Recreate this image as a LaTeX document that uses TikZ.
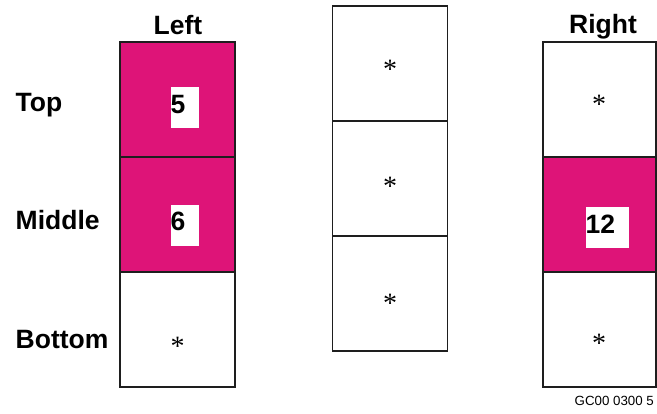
\documentclass[tikz,border=0pt]{standalone}
\usepackage{fontspec}
\setmainfont{Liberation Sans}
\newfontfamily\starfont{Liberation Serif}
\definecolor{mag}{RGB}{222,20,120}
\definecolor{edge}{RGB}{30,30,30}
\tikzset{
  cell/.style={draw=edge, line width=1.3pt, anchor=north west, minimum height=115pt, inner sep=0pt, outer sep=0pt},
  hot/.style={cell, fill=mag},
  lbl/.style={font=\fontsize{26.5}{30}\selectfont\bfseries, anchor=base, inner sep=0pt},
  rowlbl/.style={lbl, anchor=base west},
  wbox/.style={fill=white, draw=none, inner sep=0pt, minimum height=41pt},
  digit/.style={font=\fontsize{26.5}{30}\selectfont\bfseries, anchor=base west, inner sep=0pt},
  star/.style={font=\starfont\fontsize{28}{32}\selectfont, inner sep=0pt, anchor=center},
  code/.style={font=\fontsize{13.3}{15}\selectfont, anchor=base west, inner sep=0pt}
}
\begin{document}
\begin{tikzpicture}[x=1pt,y=-1pt]
\useasboundingbox (0,0) rectangle (657,414);
% Left column
\node[hot, minimum width=115pt] (L1) at (120,42) {};
\node[hot, minimum width=115pt] (L2) at (120,157) {};
\node[cell, minimum width=115pt] (L3) at (120,272) {};
% Middle column
\node[cell, minimum width=115.5pt] (M1) at (332.3,6) {};
\node[cell, minimum width=115.5pt] (M2) at (332.3,121) {};
\node[cell, minimum width=115.5pt] (M3) at (332.3,236) {};
% Right column
\node[cell, minimum width=113pt] (R1) at (543,42) {};
\node[hot, minimum width=113pt] (R2) at (543,157) {};
\node[cell, minimum width=113pt] (R3) at (543,272) {};
% column headings
\node[lbl] (hL) at (178,35) {Left};
\node[lbl] (hR) at (603,34) {Right};
% row labels
\node[rowlbl] (rT) at (15.5,111.5) {Top};
\node[rowlbl] (rM) at (15.5,229.5) {Middle};
\node[rowlbl] (rB) at (15.5,348.5) {Bottom};
% white value boxes
\node[wbox, minimum width=28pt] (b5) at (185,107.5) {};
\node[wbox, minimum width=28pt] (b6) at (185,226) {};
\node[wbox, minimum width=43pt] (b12) at (607.5,228) {};
\node[digit] (d5) at (170.5,113.5) {5};
\node[digit] (d6) at (170.5,231) {6};
\node[digit] (d12) at (585.5,234) {12};
% asterisks
\node[star] (sL3) at (177.7,346) {*};
\node[star] (sM1) at (390,69) {*};
\node[star] (sM2) at (390,186) {*};
\node[star] (sM3) at (390,303) {*};
\node[star] (sR1) at (599,104) {*};
\node[star] (sR3) at (599,343) {*};
% code
\node[code] (gc) at (574.5,405.5) {GC00 0300 5};
\end{tikzpicture}
\end{document}
